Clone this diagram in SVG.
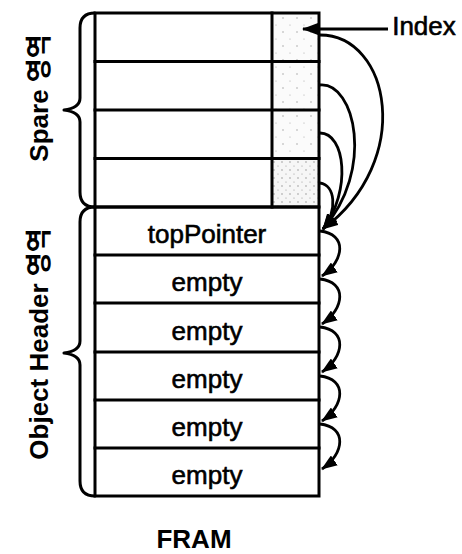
<svg xmlns="http://www.w3.org/2000/svg" width="462" height="554" viewBox="0 0 462 554">
  <style>
    .grid { fill: none; stroke: #000; stroke-width: 3; stroke-linecap: square; }
    .brace { fill: none; stroke: #000; stroke-width: 3; stroke-linejoin: round; stroke-linecap: round; }
    .cell { font-family: "Liberation Sans", Arial, sans-serif; font-size: 26px; text-anchor: middle; fill: #000; stroke: #000; stroke-width: 0.6; }
    .side { font-family: "Liberation Sans", Arial, "Noto Sans CJK KR", sans-serif; font-size: 26px; font-weight: bold; text-anchor: middle; fill: #000; }
    .link { fill: none; stroke: #000; stroke-width: 2.8; }
  </style>
  <defs>
    <pattern id="stipple" width="14" height="14" patternUnits="userSpaceOnUse">
      <rect width="14" height="14" fill="#fbfbfb"/>
      <circle cx="3" cy="4" r="0.7" fill="#999"/>
      <circle cx="10" cy="11" r="0.6" fill="#aaa"/>
    </pattern>
    <pattern id="stippleDense" width="8" height="8" patternUnits="userSpaceOnUse">
      <rect width="8" height="8" fill="#f6f6f6"/>
      <circle cx="2" cy="2" r="0.7" fill="#888"/>
      <circle cx="6" cy="6" r="0.6" fill="#999"/>
    </pattern>
    <marker id="head" viewBox="0 0 16 12" refX="15" refY="6" markerWidth="16" markerHeight="12" markerUnits="userSpaceOnUse" orient="auto">
      <path d="M0,0 L16,6 L0,12 Z" fill="#000"/>
    </marker>
  </defs>

  <!-- spare area: four rows with index cells -->
  <g id="spare">
    <rect x="272" y="13" width="47" height="48.5" fill="url(#stipple)"/>
    <rect x="272" y="61.5" width="47" height="48.5" fill="url(#stipple)"/>
    <rect x="272" y="110" width="47" height="48.5" fill="url(#stipple)"/>
    <rect x="272" y="158.5" width="47" height="48.5" fill="url(#stippleDense)"/>
    <rect class="grid" x="95" y="13" width="224" height="194"/>
    <line class="grid" x1="95" y1="61.5" x2="319" y2="61.5"/>
    <line class="grid" x1="95" y1="110" x2="319" y2="110"/>
    <line class="grid" x1="95" y1="158.5" x2="319" y2="158.5"/>
    <line class="grid" x1="272" y1="13" x2="272" y2="207"/>
  </g>

  <!-- object header area -->
  <g id="object-header">
    <rect class="grid" x="95" y="207" width="224" height="289"/>
    <line class="grid" x1="95" y1="255" x2="319" y2="255"/>
    <line class="grid" x1="95" y1="303" x2="319" y2="303"/>
    <line class="grid" x1="95" y1="352" x2="319" y2="352"/>
    <line class="grid" x1="95" y1="400" x2="319" y2="400"/>
    <line class="grid" x1="95" y1="448" x2="319" y2="448"/>
    <text class="cell" x="207" y="243">topPointer</text>
    <text class="cell" x="207" y="291">empty</text>
    <text class="cell" x="207" y="340">empty</text>
    <text class="cell" x="207" y="388">empty</text>
    <text class="cell" x="207" y="436">empty</text>
    <text class="cell" x="207" y="484">empty</text>
  </g>

  <!-- side braces and labels -->
  <g id="spare-label">
    <path class="brace" d="M95,13 Q80,13 80,28 L80,98 Q80,108 64,110 Q80,112 80,122 L80,192 Q80,207 95,207"/>
    <text class="side" transform="translate(48,98) rotate(-90)">Spare 영역</text>
  </g>
  <g id="object-header-label">
    <path class="brace" d="M95,207 Q80,207 80,222 L80,341 Q80,351 64,353 Q80,355 80,365 L80,481 Q80,496 95,496"/>
    <text class="side" transform="translate(48,344) rotate(-90)">Object Header 영역</text>
  </g>

  <g id="index-label">
    <text class="cell" x="424" y="35">Index</text>
  </g>

  <g id="fram-label">
    <text class="side" x="194" y="548">FRAM</text>
  </g>

  <!-- pointer links -->
  <g id="connectors">
    <line class="link" x1="388" y1="29" x2="303" y2="29" marker-end="url(#head)"/>
    <path class="link" d="M320,35 C390,35 415,160 323,229" marker-end="url(#head)"/>
    <path class="link" d="M320,85 C355,82 375,170 323,229" marker-end="url(#head)"/>
    <path class="link" d="M320,133 C345,133 352,190 323,229" marker-end="url(#head)"/>
    <path class="link" d="M320,183 C335,185 338,210 323,229" marker-end="url(#head)"/>
    <path class="link" d="M320,231 C347,234 345,260 322,276" marker-end="url(#head)"/>
    <path class="link" d="M320,279 C347,282 345,308 322,324" marker-end="url(#head)"/>
    <path class="link" d="M320,327 C347,330 345,356 322,372" marker-end="url(#head)"/>
    <path class="link" d="M320,376 C347,379 345,405 322,421" marker-end="url(#head)"/>
    <path class="link" d="M320,424 C347,427 345,453 322,469" marker-end="url(#head)"/>
  </g>
</svg>
